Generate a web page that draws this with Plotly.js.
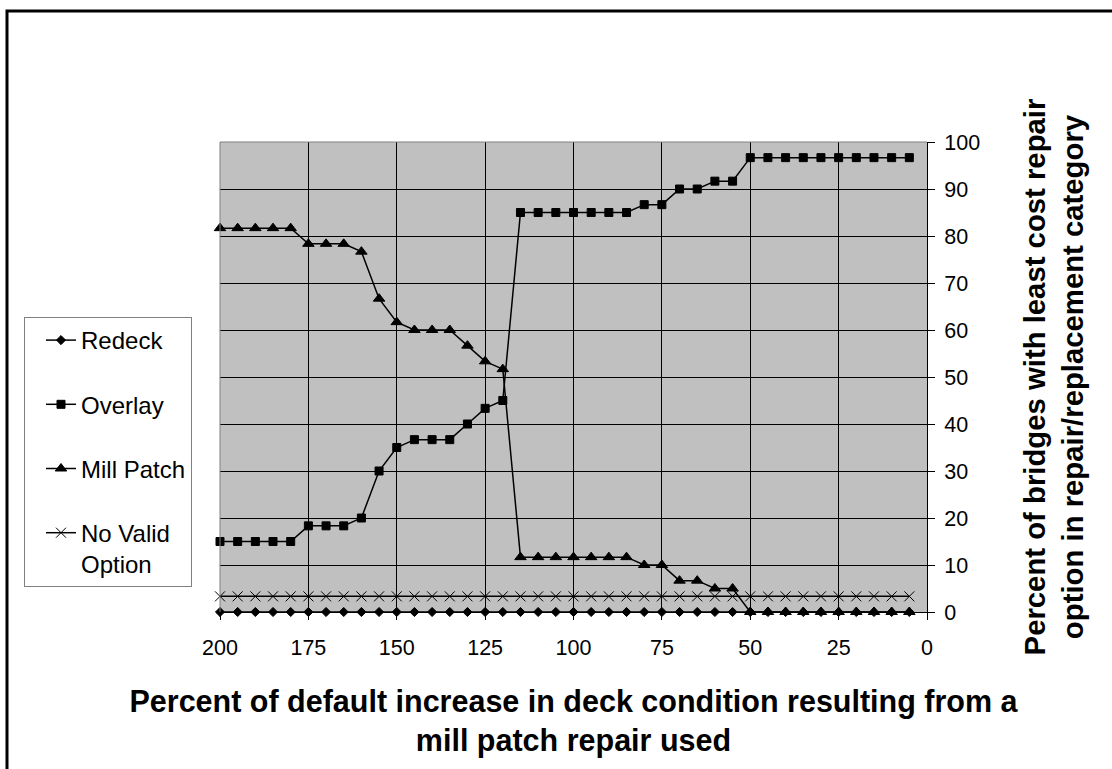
<!DOCTYPE html>
<html>
<head>
<meta charset="utf-8">
<script src="https://cdn.plot.ly/plotly-3.0.1.min.js"></script>
<style>
html,body{margin:0;padding:0;background:#fff;}
#chart{width:1112px;height:769px;}
</style>
</head>
<body>
<div id="chart"></div>
<script>
// Percent of default increase in deck condition (x)
var xPercent = [200,195,190,185,180,175,170,165,160,155,150,145,140,135,130,125,120,115,110,105,100,95,90,85,80,75,70,65,60,55,50,45,40,35,30,25,20,15,10,5];

var redeck = [0,0,0,0,0,0,0,0,0,0,0,0,0,0,0,0,0,0,0,0,0,0,0,0,0,0,0,0,0,0,0,0,0,0,0,0,0,0,0,0];

var overlay = [15,15,15,15,15,18.33,18.33,18.33,20,30,35,36.67,36.67,36.67,40,43.33,45,85,85,85,85,85,85,85,86.67,86.67,90,90,91.67,91.67,96.67,96.67,96.67,96.67,96.67,96.67,96.67,96.67,96.67,96.67];

var millPatch = [81.67,81.67,81.67,81.67,81.67,78.33,78.33,78.33,76.67,66.67,61.67,60,60,60,56.67,53.33,51.67,11.67,11.67,11.67,11.67,11.67,11.67,11.67,10,10,6.67,6.67,5,5,0,0,0,0,0,0,0,0,0,0];

var noValid = [3.33,3.33,3.33,3.33,3.33,3.33,3.33,3.33,3.33,3.33,3.33,3.33,3.33,3.33,3.33,3.33,3.33,3.33,3.33,3.33,3.33,3.33,3.33,3.33,3.33,3.33,3.33,3.33,3.33,3.33,3.33,3.33,3.33,3.33,3.33,3.33,3.33,3.33,3.33,3.33];

var seriesNames = ["Redeck", "Overlay", "Mill Patch", "No Valid<br>Option"];
var xTickVals = [200,175,150,125,100,75,50,25,0];
var yTickVals = [0,10,20,30,40,50,60,70,80,90,100];

var FONT = "Liberation Sans, Arial, sans-serif";

function mk(name, y, symbol, size, grp){
  return {
    x: xPercent, y: y, name: name, type: "scatter", mode: "lines+markers",
    legendgroup: grp,
    line: {color: "#000", width: 1.5},
    marker: {symbol: symbol, size: size, color: "#000", line: {color: "#000", width: 1}},
    cliponaxis: false
  };
}

var traces = [
  mk(seriesNames[0], redeck, "diamond", 7, "g1"),
  mk(seriesNames[1], overlay, "square", 8, "g2"),
  mk(seriesNames[2], millPatch, "triangle-up", 10, "g3"),
  mk(seriesNames[3], noValid, "x-thin-open", 10, "g4")
];

var L = 220, R = 927, T = 142, B = 612;
var W = R - L, H = B - T;
function px(p){ return (p - L) / W; }
function py(p){ return (B - p) / H; }

var layout = {
  width: 1112, height: 769,
  margin: {l: L, r: 1112 - R, t: T, b: 769 - B},
  paper_bgcolor: "#fff",
  plot_bgcolor: "#c0c0c0",
  font: {family: FONT, color: "#000", size: 21},
  showlegend: true,
  legend: {
    x: px(24), y: py(317), xanchor: "left", yanchor: "top",
    bgcolor: "#fff", bordercolor: "#808080", borderwidth: 1,
    font: {family: FONT, size: 24, color: "#000"},
    tracegroupgap: 30, valign: "top", traceorder: "grouped",
    indentation: 16
  },
  xaxis: {
    range: [200, 0], tickvals: xTickVals, ticktext: xTickVals.map(String),
    showgrid: true, gridcolor: "#000", gridwidth: 1,
    zeroline: false, showline: true, linecolor: "#000", linewidth: 1,
    ticks: "outside", ticklen: 7, tickcolor: "#000",
    ticklabelstandoff: 9,
    tickfont: {family: FONT, size: 21.5},
    title: {text: "<b>Percent of default increase in deck condition resulting from a<br>mill patch repair used</b>",
            font: {family: FONT, size: 30.5}, standoff: 31},
    automargin: false
  },
  yaxis: {
    range: [0, 100], tickvals: yTickVals, side: "right",
    showgrid: true, gridcolor: "#000", gridwidth: 1,
    zeroline: false, showline: true, linecolor: "#000", linewidth: 1,
    ticks: "outside", ticklen: 7, tickcolor: "#000",
    ticklabelstandoff: 5,
    tickfont: {family: FONT, size: 21.5},
    title: {text: "<b>Percent of bridges with least cost repair<br>option in repair/replacement category</b>",
            font: {family: FONT, size: 29.3}, standoff: 45},
    automargin: false
  },
  shapes: [
    {type: "line", xref: "paper", yref: "paper", x0: 0, x1: 1, y0: 1, y1: 1, line: {color: "#808080", width: 1}},
    {type: "line", xref: "paper", yref: "paper", x0: 0, x1: 0, y0: 0, y1: 1, line: {color: "#808080", width: 1}},
    {type: "rect", xref: "paper", yref: "paper", x0: px(7), x1: px(1130), y0: py(790), y1: py(11),
     line: {color: "#000", width: 3}, fillcolor: "rgba(0,0,0,0)"}
  ]
};

Plotly.newPlot("chart", traces, layout, {staticPlot: true, displayModeBar: false});
</script>
</body>
</html>
